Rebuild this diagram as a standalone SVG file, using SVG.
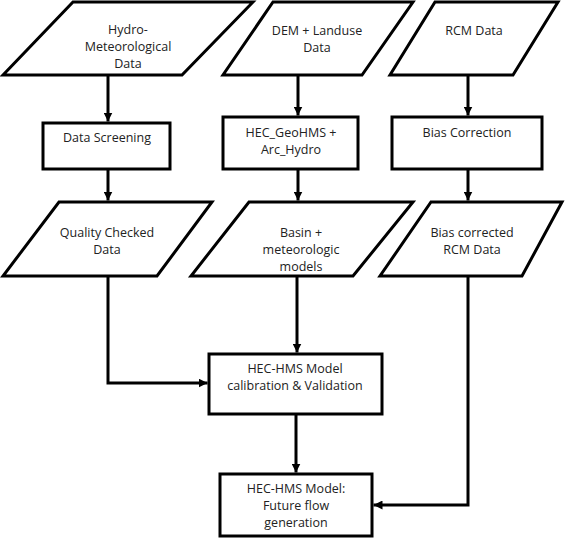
<svg xmlns="http://www.w3.org/2000/svg" width="566" height="538" viewBox="0 0 566 538">
<style>
.shape{fill:#fff;stroke:#000;stroke-width:3;stroke-linejoin:miter}
.conn{fill:none;stroke:#000;stroke-width:3;stroke-linejoin:miter}
text{font-family:"Open Sans","Noto Sans",sans-serif;font-size:12.5px;fill:#222;text-anchor:middle}
</style>
<defs>
<marker id="ah" viewBox="0 0 10 10" refX="10" refY="5" markerWidth="9" markerHeight="9" markerUnits="userSpaceOnUse" orient="auto">
<path d="M0,0 L10,5 L0,10 z" fill="#000"/>
</marker>
</defs>
<rect width="566" height="538" fill="#fff"/>
<g id="connectors">
<path class="conn" d="M108,75 V121.5" marker-end="url(#ah)"/>
<path class="conn" d="M298,75 V115.5" marker-end="url(#ah)"/>
<path class="conn" d="M468,75 V115.5" marker-end="url(#ah)"/>
<path class="conn" d="M108,169 V200.5" marker-end="url(#ah)"/>
<path class="conn" d="M298,169 V200.5" marker-end="url(#ah)"/>
<path class="conn" d="M468,169 V200.5" marker-end="url(#ah)"/>
<path class="conn" d="M108,276 V383 H207.5" marker-end="url(#ah)"/>
<path class="conn" d="M297,276 V352.5" marker-end="url(#ah)"/>
<path class="conn" d="M296,414 V472.5" marker-end="url(#ah)"/>
<path class="conn" d="M468,276 V505 H373.5" marker-end="url(#ah)"/>
</g>
<g id="hydro-met-data">
<polygon class="shape" points="73,2 253,2 182,75 3,75"/>
<text x="128" y="34">Hydro-</text>
<text x="128" y="51">Meteorological</text>
<text x="128" y="68">Data</text>
</g>
<g id="dem-landuse">
<polygon class="shape" points="273,2 413,2 362,75 223,75"/>
<text x="317" y="35">DEM + Landuse</text>
<text x="317" y="52">Data</text>
</g>
<g id="rcm-data">
<polygon class="shape" points="435,2 558,2 513,75 390,75"/>
<text x="474" y="35">RCM Data</text>
</g>
<g id="data-screening">
<rect class="shape" x="43" y="123" width="127" height="46"/>
<text x="107" y="142">Data Screening</text>
</g>
<g id="hec-geohms">
<rect class="shape" x="223" y="117" width="135" height="52"/>
<text x="291" y="137">HEC_GeoHMS +</text>
<text x="291" y="154">Arc_Hydro</text>
</g>
<g id="bias-correction">
<rect class="shape" x="392" y="117" width="150" height="52"/>
<text x="467" y="137">Bias Correction</text>
</g>
<g id="quality-checked">
<polygon class="shape" points="59,202 212,202 157,276 3,276"/>
<text x="107" y="237">Quality Checked</text>
<text x="107" y="254">Data</text>
</g>
<g id="basin-models">
<polygon class="shape" points="249,202 413,202 353,276 191,276"/>
<text x="301" y="237">Basin +</text>
<text x="301" y="254">meteorologic</text>
<text x="301" y="271">models</text>
</g>
<g id="bias-corrected-rcm">
<polygon class="shape" points="431,202 562,202 522,276 380,276"/>
<text x="472" y="237">Bias corrected</text>
<text x="472" y="254">RCM Data</text>
</g>
<g id="calibration">
<rect class="shape" x="209" y="354" width="173" height="60"/>
<text x="295" y="373">HEC-HMS Model</text>
<text x="295" y="390">calibration &amp; Validation</text>
</g>
<g id="future-flow">
<rect class="shape" x="220" y="474" width="152" height="62"/>
<text x="296" y="493">HEC-HMS Model:</text>
<text x="296" y="510">Future flow</text>
<text x="296" y="527">generation</text>
</g>
</svg>
